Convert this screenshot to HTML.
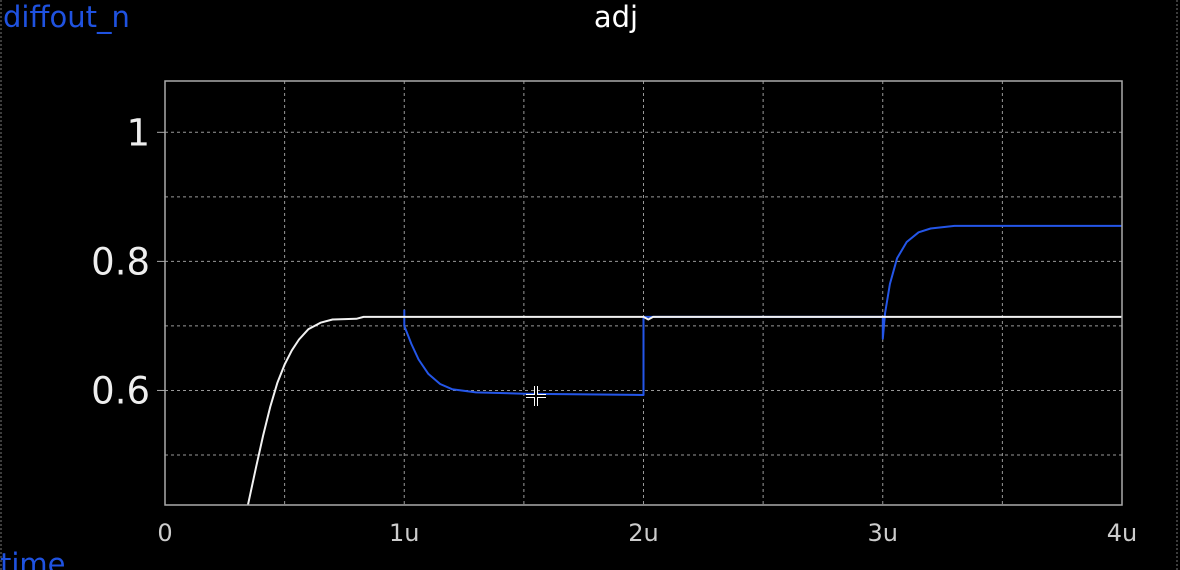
<!DOCTYPE html>
<html><head><meta charset="utf-8"><style>
html,body{margin:0;padding:0;background:#000;width:1180px;height:570px;overflow:hidden}
svg{display:block;font-family:"DejaVu Sans","Liberation Sans",sans-serif}
</style></head><body>
<svg id="chart" width="1180" height="570">
<line x1="1" y1="0" x2="1" y2="570" stroke="#777" stroke-dasharray="2,2"/>
<line x1="1177" y1="0" x2="1177" y2="570" stroke="#777" stroke-dasharray="2,2"/>
<text x="3" y="27" fill="#1f52e0" font-size="29">diffout_n</text>
<text x="616" y="27" fill="#fff" font-size="29" text-anchor="middle">adj</text>
<text x="0" y="574" fill="#1f52e0" font-size="29">time</text>
<g id="grid"></g><g id="ticks"></g><g id="series"></g>
<rect x="165" y="81" width="957" height="424" fill="none" stroke="#aaa" stroke-width="1.5"/>
<g stroke="#fff" stroke-width="4"><line x1="536" y1="386" x2="536" y2="406"/><line x1="526" y1="396" x2="546" y2="396"/></g>
<g stroke="#000" stroke-width="2"><line x1="536" y1="386" x2="536" y2="406"/><line x1="526" y1="396" x2="546" y2="396"/></g>
</svg>
<script>
const xTicks=[0,1,2,3,4];
const xTickLabels=["0","1u","2u","3u","4u"];
const yTicks=[0.6,0.8,1.0];
const yTickLabels=["0.6","0.8","1"];
const whiteT=[0.347,0.38,0.41,0.44,0.47,0.50,0.53,0.56,0.60,0.65,0.70,0.80,0.83,2.0,2.02,2.04,4.0];
const whiteV=[0.423,0.48,0.53,0.575,0.612,0.640,0.662,0.679,0.695,0.705,0.710,0.711,0.714,0.714,0.710,0.714,0.714];
const blueT=[1.0,1.0,1.03,1.06,1.1,1.15,1.2,1.3,1.5,2.0,2.0,3.0,3.0,3.01,3.03,3.06,3.1,3.15,3.2,3.3,4.0];
const blueV=[0.725,0.70,0.672,0.648,0.626,0.610,0.602,0.597,0.595,0.593,0.714,0.714,0.68,0.72,0.765,0.805,0.830,0.845,0.851,0.855,0.855];
const X0=165,X1=1122,Y0=81,Y1=505,tMin=0,tMax=4,vMin=0.4225,vMax=1.0795;
const sx=t=>X0+(t-tMin)/(tMax-tMin)*(X1-X0);
const sy=v=>Y1-(v-vMin)/(vMax-vMin)*(Y1-Y0);
const NS="http://www.w3.org/2000/svg";
const grid=document.getElementById('grid'),ticks=document.getElementById('ticks'),ser=document.getElementById('series');
function mk(tag,a,p){const e=document.createElementNS(NS,tag);for(const k in a)e.setAttribute(k,a[k]);p.appendChild(e);return e;}
for(let t=0.5;t<4;t+=0.5){
 const l=mk('line',{x1:sx(t),x2:sx(t),y1:Y0,y2:Y1,stroke:'#999','stroke-dasharray':'3,3'},grid);
 
 
}
for(let v=0.5;v<1.05;v+=0.1){
 const l=mk('line',{x1:X0,x2:X1,y1:sy(v),y2:sy(v),stroke:'#999','stroke-dasharray':'3,3'},grid);
 
 
}
xTicks.forEach((t,i)=>{
 const e=mk('text',{x:sx(t),y:541,fill:'#ccc','font-size':24,'text-anchor':'middle'},ticks);e.textContent=xTickLabels[i];
 
 
});
yTicks.forEach((v,i)=>{
 const e=mk('text',{x:150,y:sy(v)+13,fill:'#eee','font-size':37,'text-anchor':'end'},ticks);e.textContent=yTickLabels[i];
 
 
 const l=mk('line',{x1:X0-8,x2:X0,y1:sy(v),y2:sy(v),stroke:'#aaa'},ticks);
 
 
});
function path(T,V,color,name){
 const d=T.map((t,i)=>(i?'L':'M')+sx(t).toFixed(1)+','+sy(V[i]).toFixed(1)).join('');
 const p=mk('path',{d:d,fill:'none',stroke:color,'stroke-width':2,'stroke-linejoin':'round'},ser);
 
 
}
path(blueT,blueV,'#2456e8','series-diffout-n');
path(whiteT,whiteV,'#f2f2f2','series-adj');
</script>
</body></html>
